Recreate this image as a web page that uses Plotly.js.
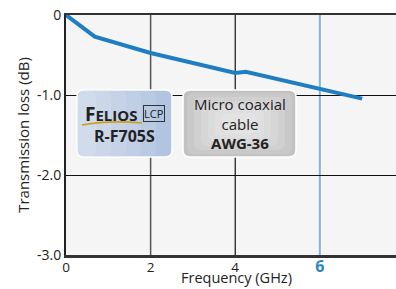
<!DOCTYPE html>
<html><head><meta charset="utf-8">
<script src="https://cdn.plot.ly/plotly-3.0.1.min.js"></script>
<style>html,body{margin:0;padding:0;background:#fff}#c{width:396px;height:289px}</style>
</head><body><div id="c"></div>
<script>
// Data
const frequencyGHz = [0, 0.2, 0.5, 0.68, 2, 4, 4.25, 6, 7.0];
const lossDB       = [0, -0.08, -0.19, -0.27, -0.475, -0.725, -0.71, -0.93, -1.045];
const xTickVals = [0, 2, 4, 6];
const xTickText = ['0', '2', '4', '<b><span style="color:#2b82c4;font-size:16px">6</span></b>'];
const yTickVals = [0, -1, -2, -3];
const yTickText = ['0', '-1.0', '-2.0', '-3.0'];

// layout geometry
const L = 66, T = 15, Bm = 255, R = 396;
const XR = [0, 7.8], YR = [-3, 0];
const kx = (R - L) / (XR[1] - XR[0]), ky = (Bm - T) / (YR[1] - YR[0]);
const gx = p => XR[0] + (p - L) / kx;
const gy = p => YR[1] - (p - T) / ky;
function rr(x0, y0, x1, y1, r) {
  const P = (a, b) => gx(a) + ',' + gy(b);
  return 'M' + P(x0 + r, y0) + ' L' + P(x1 - r, y0) + ' Q' + P(x1, y0) + ' ' + P(x1, y0 + r) +
    ' L' + P(x1, y1 - r) + ' Q' + P(x1, y1) + ' ' + P(x1 - r, y1) +
    ' L' + P(x0 + r, y1) + ' Q' + P(x0, y1) + ' ' + P(x0, y1 - r) +
    ' L' + P(x0, y0 + r) + ' Q' + P(x0, y0) + ' ' + P(x0 + r, y0) + ' Z';
}
const shapes = [];
// vertical grid lines
[[2, '#555', 1.5], [4, '#111', 1.2], [6, '#80b6da', 2]].forEach(g => {
  shapes.push({type: 'line', xref: 'x', yref: 'paper', x0: g[0], x1: g[0], y0: 0, y1: 1,
    line: {color: g[1], width: g[2]}, layer: 'below'});
});
// blue box with horizontal gradient
shapes.push({type: 'path', xref: 'x', yref: 'y', path: rr(77, 90, 172, 157, 7), fillcolor: '#a9bedd',
  line: {color: '#ffffff', width: 1.5}, layer: 'above'});
for (let i = 0; i < 6; i++) {
  shapes.push({type: 'path', xref: 'x', yref: 'y', path: rr(78, 91, 171 - i * 15, 156, 6), fillcolor: '#ffffff',
    opacity: 0.1, line: {width: 0}, layer: 'above'});
}
// gray box with radial-ish gradient
shapes.push({type: 'path', xref: 'x', yref: 'y', path: rr(183, 90, 296, 157, 7), fillcolor: '#c2c2c2',
  line: {color: '#ffffff', width: 1.5}, layer: 'above'});
for (let i = 0; i < 6; i++) {
  const dx = 3 + i * 7, dy = 2 + i * 4;
  shapes.push({type: 'path', xref: 'x', yref: 'y', path: rr(184 + dx, 91 + dy, 295 - dx, 156 - dy, 8), fillcolor: '#ffffff',
    opacity: 0.13, line: {width: 0}, layer: 'above'});
}
// gold swoosh under FELIOS
shapes.push({type: 'path', xref: 'x', yref: 'y',
  path: 'M' + gx(82) + ',' + gy(125) + ' Q' + gx(110) + ',' + gy(120) + ' ' + gx(142) + ',' + gy(123),
  line: {color: '#c9a020', width: 1.5}, layer: 'above'});

const ann = (txt, px, py, size, extra) => Object.assign({xref: 'x', yref: 'y', x: gx(px), y: gy(py), text: txt,
  showarrow: false, font: {family: 'Open Sans, sans-serif', size: size, color: '#222'}, xanchor: 'center', yanchor: 'middle'}, extra || {});

const annotations = [
  ann('<b><span style="font-size:19px">F</span>ELIOS</b>', 111, 114, 15),
  ann('<b>R-F705S</b>', 124, 135.5, 16),
  ann('LCP', 153.5, 113.5, 11, {bordercolor: '#333', borderwidth: 1, borderpad: 0}),
  ann('Micro coaxial<br>cable<br><b>AWG-36</b>', 240, 123, 15),
  {xref: 'paper', yref: 'paper', x: (236 - L) / (R - L), y: -(289 - Bm) / (Bm - T), text: 'Frequency (GHz)',
    showarrow: false, xanchor: 'center', yanchor: 'bottom', font: {family: 'Open Sans, sans-serif', size: 14.5, color: '#222'}}
];

const trace = {x: frequencyGHz, y: lossDB, type: 'scatter', mode: 'lines',
  line: {color: '#1f7ec2', width: 4}, hoverinfo: 'skip', cliponaxis: false};

const layout = {
  width: 396, height: 289,
  margin: {l: L, r: 0, t: T, b: 289 - Bm, pad: 0},
  paper_bgcolor: '#ffffff', plot_bgcolor: '#f5f5f5',
  showlegend: false,
  font: {family: 'Open Sans, sans-serif', size: 13, color: '#222'},
  xaxis: {range: XR, tickvals: xTickVals, ticktext: xTickText, showgrid: false, zeroline: false,
    showline: true, linecolor: '#333', linewidth: 2.5, mirror: true, ticks: '', ticklabelstandoff: -2,
    tickfont: {size: 13.5, color: '#222'}},
  yaxis: {range: YR, tickvals: yTickVals, ticktext: yTickText, showgrid: true, gridcolor: '#111', gridwidth: 1,
    zeroline: false, showline: true, linecolor: '#222', linewidth: 2, ticks: '',
    tickfont: {size: 14, color: '#222'},
    title: {text: 'Transmission loss (dB)', font: {size: 15, color: '#222'}, standoff: 4}},
  shapes: shapes, annotations: annotations
};
Plotly.newPlot('c', [trace], layout, {staticPlot: true, displayModeBar: false});
</script></body></html>
